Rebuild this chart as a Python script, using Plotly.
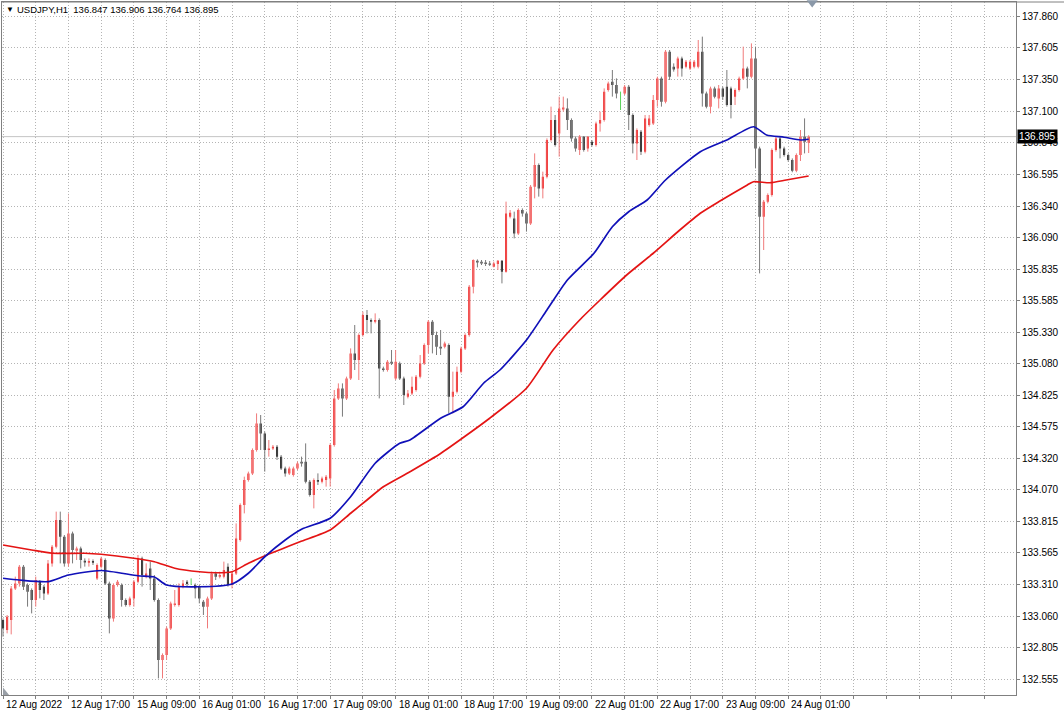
import plotly.graph_objects as go

SYMBOL = "USDJPY,H1"

X_LABELS = ["12 Aug 2022", "12 Aug 17:00", "15 Aug 09:00", "16 Aug 01:00", "16 Aug 17:00",
            "17 Aug 09:00", "18 Aug 01:00", "18 Aug 17:00", "19 Aug 09:00", "22 Aug 01:00",
            "22 Aug 17:00", "23 Aug 09:00", "24 Aug 01:00"]
X_LABEL_BARS = [0, 16, 32, 48, 64, 80, 96, 112, 128, 144, 160, 176, 192]

Y_TICKS = [132.555, 132.805, 133.060, 133.310, 133.565, 133.815, 134.070, 134.320, 134.575,
           134.825, 135.080, 135.330, 135.585, 135.835, 136.090, 136.340, 136.595, 136.845,
           137.100, 137.350, 137.605, 137.860]

opens = [133.028, 132.948, 133.028, 133.281, 133.321, 133.455, 133.308, 133.268, 133.188, 133.335,
         133.295, 133.241, 133.481, 133.615, 133.828, 133.695, 133.481, 133.721, 133.583, 133.601,
         133.503, 133.487, 133.500, 133.361, 133.455, 133.508, 133.321, 133.041, 133.308, 133.308,
         133.188, 133.148, 133.201, 133.335, 133.521, 133.375, 133.441, 133.361, 133.188, 132.708,
         132.748, 132.961, 133.148, 133.148, 133.295, 133.335, 133.335, 133.308, 133.295, 133.175,
         133.135, 133.201, 133.401, 133.375, 133.375, 133.455, 133.308, 133.401, 133.668, 133.948,
         134.148, 134.201, 134.388, 134.601, 134.521, 134.388, 134.401, 134.415, 134.335, 134.241,
         134.201, 134.188, 134.241, 134.295, 134.295, 134.135, 134.028, 134.148, 134.135, 134.148,
         134.161, 134.428, 134.801, 134.881, 134.801, 134.961, 135.161, 135.108, 135.308, 135.468,
         135.428, 135.415, 135.428, 135.041, 135.028, 135.095, 134.961, 135.081, 134.961, 134.815,
         134.841, 134.868, 134.975, 135.081, 135.228, 135.415, 135.308, 135.215, 135.215, 135.228,
         134.815, 134.855, 135.015, 135.201, 135.308, 135.695, 135.903, 135.895, 135.889, 135.881,
         135.855, 135.876, 135.903, 135.815, 136.255, 136.241, 136.121, 136.308, 136.281, 136.201,
         136.495, 136.668, 136.481, 136.575, 136.868, 137.028, 136.921, 137.113, 137.121, 137.028,
         136.881, 136.788, 136.895, 136.801, 136.855, 136.828, 137.001, 137.028, 137.268, 137.335,
         137.308, 137.241, 137.241, 137.295, 137.068, 136.841, 136.935, 136.775, 136.988, 137.001,
         137.188, 137.361, 137.175, 137.575, 137.455, 137.441, 137.521, 137.455, 137.441, 137.455,
         137.455, 137.575, 137.241, 137.135, 137.281, 137.201, 137.281, 137.295, 137.281, 137.215,
         137.268, 137.361, 137.441, 137.375, 137.521, 136.801, 136.255, 136.375, 136.428, 136.788,
         136.881, 136.801, 136.748, 136.708, 136.623, 136.748, 136.895, 136.847]
highs = [133.041, 133.068, 133.300, 133.375, 133.468, 133.468, 133.321, 133.281, 133.375, 133.348,
         133.308, 133.508, 133.628, 133.895, 133.895, 133.708, 133.881, 133.735, 133.615, 133.615,
         133.521, 133.521, 133.513, 133.481, 133.535, 133.521, 133.335, 133.321, 133.348, 133.321,
         133.201, 133.215, 133.348, 133.548, 133.535, 133.481, 133.495, 133.388, 133.201, 132.761,
         132.975, 133.175, 133.268, 133.321, 133.348, 133.348, 133.361, 133.321, 133.308, 133.188,
         133.215, 133.415, 133.415, 133.415, 133.495, 133.481, 133.415, 133.801, 133.961, 134.175,
         134.215, 134.401, 134.681, 134.668, 134.535, 134.468, 134.428, 134.428, 134.348, 134.255,
         134.255, 134.255, 134.295, 134.335, 134.441, 134.148, 134.161, 134.201, 134.175, 134.188,
         134.441, 134.868, 134.921, 134.921, 134.975, 135.201, 135.388, 135.321, 135.495, 135.508,
         135.441, 135.481, 135.441, 135.055, 135.108, 135.188, 135.188, 135.095, 134.975, 134.868,
         134.975, 134.988, 135.148, 135.241, 135.428, 135.428, 135.335, 135.348, 135.255, 135.241,
         135.015, 135.055, 135.215, 135.321, 135.708, 135.913, 135.913, 135.908, 135.908, 135.900,
         135.895, 135.908, 135.908, 136.375, 136.308, 136.295, 136.321, 136.321, 136.295, 136.508,
         136.761, 136.681, 136.615, 136.881, 137.135, 137.068, 137.215, 137.215, 137.201, 137.041,
         136.895, 136.908, 136.900, 136.900, 136.868, 137.015, 137.095, 137.281, 137.335, 137.428,
         137.361, 137.255, 137.308, 137.308, 137.081, 136.961, 136.948, 137.068, 137.068, 137.228,
         137.375, 137.375, 137.588, 137.588, 137.481, 137.535, 137.535, 137.508, 137.508, 137.508,
         137.668, 137.695, 137.255, 137.295, 137.295, 137.308, 137.295, 137.428, 137.295, 137.281,
         137.375, 137.615, 137.455, 137.641, 137.615, 136.815, 136.388, 136.441, 136.801, 136.895,
         136.895, 136.815, 136.761, 136.721, 136.761, 136.948, 137.041, 136.906]
lows = [132.895, 132.921, 132.913, 133.268, 133.295, 133.268, 133.135, 133.081, 133.135, 133.201,
        133.188, 133.228, 133.455, 133.601, 133.481, 133.455, 133.455, 133.481, 133.508, 133.441,
        133.455, 133.455, 133.468, 133.348, 133.441, 133.308, 132.921, 133.015, 133.295, 133.135,
        133.135, 133.135, 133.135, 133.321, 133.295, 133.361, 133.268, 133.175, 132.561, 132.561,
        132.708, 132.948, 133.135, 133.135, 133.281, 133.295, 133.308, 133.201, 133.161, 133.068,
        132.961, 133.188, 133.348, 133.361, 133.361, 133.295, 133.281, 133.388, 133.655, 133.881,
        134.135, 134.188, 134.375, 134.388, 134.215, 134.335, 134.388, 134.308, 134.228, 134.175,
        134.188, 134.175, 134.228, 134.255, 134.121, 134.015, 133.921, 134.108, 134.121, 134.095,
        134.095, 134.415, 134.788, 134.655, 134.788, 134.948, 135.028, 134.948, 135.295, 135.321,
        135.321, 135.401, 134.801, 135.015, 135.015, 135.068, 134.948, 134.948, 134.748, 134.801,
        134.828, 134.855, 134.961, 135.068, 135.161, 135.161, 135.148, 135.148, 135.201, 134.681,
        134.681, 134.841, 135.001, 135.188, 135.295, 135.641, 135.849, 135.868, 135.860, 135.860,
        135.849, 135.828, 135.721, 135.807, 136.241, 136.081, 136.108, 136.255, 136.135, 136.188,
        136.401, 136.415, 136.401, 136.561, 136.855, 136.815, 136.735, 137.095, 136.948, 136.855,
        136.775, 136.748, 136.775, 136.775, 136.815, 136.815, 136.935, 137.015, 137.255, 137.215,
        137.201, 137.108, 137.228, 136.948, 136.761, 136.708, 136.748, 136.761, 136.975, 136.988,
        137.135, 137.135, 137.161, 137.348, 137.415, 137.375, 137.375, 137.441, 137.428, 137.441,
        137.441, 137.135, 137.121, 137.081, 137.201, 137.121, 137.188, 137.135, 137.041, 137.148,
        137.255, 137.348, 137.281, 137.361, 136.641, 135.801, 135.988, 136.361, 136.415, 136.775,
        136.721, 136.735, 136.695, 136.610, 136.610, 136.700, 136.761, 136.764]
closes = [132.961, 133.055, 133.281, 133.321, 133.455, 133.295, 133.255, 133.188, 133.348, 133.268,
          133.241, 133.481, 133.615, 133.828, 133.695, 133.481, 133.721, 133.588, 133.601, 133.508,
          133.489, 133.500, 133.487, 133.468, 133.521, 133.321, 133.041, 133.308, 133.335, 133.188,
          133.148, 133.201, 133.335, 133.521, 133.388, 133.401, 133.361, 133.188, 132.708, 132.748,
          132.961, 133.161, 133.161, 133.295, 133.321, 133.316, 133.335, 133.281, 133.201, 133.135,
          133.201, 133.401, 133.375, 133.388, 133.428, 133.308, 133.401, 133.681, 133.948, 134.148,
          134.201, 134.388, 134.601, 134.521, 134.388, 134.401, 134.415, 134.335, 134.241, 134.201,
          134.241, 134.241, 134.281, 134.281, 134.135, 134.028, 134.148, 134.135, 134.161, 134.175,
          134.428, 134.801, 134.881, 134.801, 134.961, 135.161, 135.108, 135.308, 135.468, 135.428,
          135.415, 135.428, 135.041, 135.028, 135.095, 135.081, 135.095, 134.961, 134.828, 134.841,
          134.895, 134.975, 135.081, 135.228, 135.415, 135.308, 135.215, 135.201, 135.241, 134.815,
          134.855, 135.015, 135.201, 135.308, 135.695, 135.908, 135.889, 135.881, 135.876, 135.870,
          135.881, 135.903, 135.815, 136.281, 136.287, 136.121, 136.308, 136.281, 136.201, 136.495,
          136.668, 136.481, 136.575, 136.868, 137.028, 136.828, 137.121, 137.129, 137.028, 136.881,
          136.801, 136.895, 136.788, 136.895, 136.828, 137.001, 137.028, 137.255, 137.321, 137.308,
          137.241, 137.241, 137.295, 137.068, 136.841, 136.948, 136.775, 137.041, 137.041, 137.188,
          137.361, 137.175, 137.575, 137.375, 137.433, 137.521, 137.441, 137.495, 137.495, 137.495,
          137.575, 137.241, 137.135, 137.281, 137.215, 137.281, 137.215, 137.148, 137.148, 137.268,
          137.361, 137.441, 137.375, 137.521, 136.801, 136.255, 136.375, 136.428, 136.788, 136.881,
          136.801, 136.748, 136.708, 136.623, 136.748, 136.895, 136.855, 136.895]

# Moving averages (bar position, price)
ma_fast_bar = [0, 4, 11, 16, 24, 33, 37, 40, 48, 56, 60, 64, 69, 73, 80, 85, 91, 97, 99.5, 107,
               112.5, 117.5, 121.5, 128, 133, 138, 144.5, 149, 153, 157.5, 162, 170.5, 177, 183.5,
               186.7, 191, 195, 197]
ma_fast_val = [133.362, 133.348, 133.335, 133.388, 133.424, 133.382, 133.372, 133.308, 133.294,
               133.316, 133.402, 133.534, 133.668, 133.754, 133.842, 134.014, 134.282, 134.442,
               134.468, 134.642, 134.734, 134.922, 135.028, 135.268, 135.508, 135.748, 135.962,
               136.174, 136.294, 136.388, 136.548, 136.774, 136.868, 136.974, 136.908, 136.890,
               136.868, 136.874]
ma_slow_bar = [0, 7, 12, 20, 24, 32, 37, 42, 48, 52, 56, 60, 64.5, 72.6, 80, 85, 89, 93, 99.5,
               107, 119, 128, 134.5, 141, 146, 152.5, 159, 165.5, 170.5, 175, 182, 183.5, 187.5,
               191.5, 197]
ma_slow_val = [133.628, 133.588, 133.562, 133.562, 133.554, 133.522, 133.494, 133.442, 133.414,
               133.406, 133.414, 133.482, 133.548, 133.654, 133.748, 133.882, 133.988, 134.094,
               134.214, 134.360, 134.642, 134.882, 135.188, 135.428, 135.588, 135.788, 135.962,
               136.148, 136.282, 136.374, 136.508, 136.534, 136.526, 136.548, 136.580]

bars = list(range(len(closes)))

UP = "#f01414"
DOWN = "#000000"
UP_WICK = "#f07a7a"
DOWN_WICK = "#7a7a7a"
DOJI = "#5ad25a"
FONT = "Liberation Sans, Arial, sans-serif"
GRID = "#b4b4b4"
FRAME = "#808080"


def wicks(sel):
    xs, ys = [], []
    for i in bars:
        if sel(opens[i], closes[i]):
            xs += [i, i, None]
            ys += [lows[i], highs[i], None]
    return xs, ys


fig = go.Figure()
for sel, col in [(lambda o, c: c > o, UP_WICK), (lambda o, c: c < o, DOWN_WICK),
                 (lambda o, c: c == o, DOJI)]:
    wx, wy = wicks(sel)
    fig.add_trace(go.Scatter(x=wx, y=wy, mode="lines", line=dict(color=col, width=1),
                             hoverinfo="skip", showlegend=False))

fig.add_trace(go.Candlestick(
    x=bars, open=opens, high=highs, low=lows, close=closes,
    increasing=dict(fillcolor=UP, line=dict(color=UP, width=0)),
    decreasing=dict(fillcolor=DOWN, line=dict(color=DOWN, width=0)),
    whiskerwidth=0, showlegend=False))

fig.add_trace(go.Scatter(x=ma_slow_bar, y=ma_slow_val, mode="lines",
                         line=dict(color="#e41414", width=1.7, shape="spline", smoothing=0.6),
                         showlegend=False, hoverinfo="skip"))
fig.add_trace(go.Scatter(x=ma_fast_bar, y=ma_fast_val, mode="lines",
                         line=dict(color="#1010b8", width=1.7, shape="spline", smoothing=0.6),
                         showlegend=False, hoverinfo="skip"))

bid = closes[-1]
fig.add_shape(type="line", xref="paper", x0=0, x1=1, yref="y", y0=bid, y1=bid,
              line=dict(color="#c4c4c4", width=1), layer="below")

ann = []
for b, t in zip(X_LABEL_BARS, X_LABELS):
    ann.append(dict(x=b, xref="x", y=0, yref="paper", text=t, showarrow=False,
                    xanchor="left", yanchor="top", xshift=1, yshift=-2,
                    font=dict(family=FONT, size=10, color="#000000")))
ann.append(dict(x=1, xref="paper", y=bid, yref="y", text="%.3f" % bid, showarrow=False,
                xanchor="left", yanchor="middle", xshift=1, bgcolor="#000000", borderpad=1,
                font=dict(family=FONT, size=10, color="#ffffff")))
header = "%s  %.3f %.3f %.3f %.3f" % (SYMBOL, opens[-1], highs[-1], lows[-1], closes[-1])
ann.append(dict(x=0.0, xref="paper", y=0.9885, yref="paper", text="▼", showarrow=False,
                xanchor="left", yanchor="middle", xshift=2,
                font=dict(family=FONT, size=8, color="#000000")))
ann.append(dict(x=0.0, xref="paper", y=0.9885, yref="paper", text=header, showarrow=False,
                xanchor="left", yanchor="middle", xshift=13,
                font=dict(family=FONT, size=9.5, color="#000000")))

fig.update_layout(
    width=1064, height=712,
    margin=dict(l=2, r=48, t=2, b=17, autoexpand=False),
    paper_bgcolor="#ffffff", plot_bgcolor="#ffffff",
    showlegend=False,
    annotations=ann,
    boxgap=0.28,
    xaxis=dict(range=[-0.25, 247.7], tickvals=list(range(0, 248, 8)), showticklabels=False,
               ticks="outside", ticklen=3, tickcolor=FRAME,
               showgrid=True, gridcolor=GRID, griddash="1px,2px", gridwidth=1,
               showline=True, linecolor=FRAME, linewidth=1, mirror=True,
               zeroline=False, rangeslider=dict(visible=False), fixedrange=True),
    yaxis=dict(range=[132.428, 137.972], side="right", tickvals=Y_TICKS,
               ticktext=["%.3f" % v for v in Y_TICKS],
               ticks="outside", ticklen=3, tickcolor=FRAME,
               tickfont=dict(family=FONT, size=10, color="#000000"),
               showgrid=True, gridcolor=GRID, griddash="1px,2px", gridwidth=1,
               showline=True, linecolor=FRAME, linewidth=1, mirror=True,
               zeroline=False, fixedrange=True),
)

# window top edge running over the price scale too
fig.add_shape(type="line", xref="paper", yref="paper", x0=0, x1=1.05, y0=1, y1=1,
              line=dict(color=FRAME, width=1))
# chart-shift marker at the top and the small corner marker at the bottom-left
fig.add_shape(type="path", xref="paper", yref="paper",
              path="M 0.7935 1.0025 L 0.8045 1.0025 L 0.799 0.992 Z",
              fillcolor="#8a98a8", line=dict(width=0))
fig.add_shape(type="path", xref="paper", yref="paper",
              path="M 0.001 0.0 L 0.001 0.011 L 0.007 0.0 Z",
              fillcolor="#9aa0a8", line=dict(width=0))

fig.write_html("out.html", config={"displayModeBar": False},
               post_script="document.body.style.margin='0';document.body.style.padding='0';"
                           "document.body.style.overflow='hidden';")
